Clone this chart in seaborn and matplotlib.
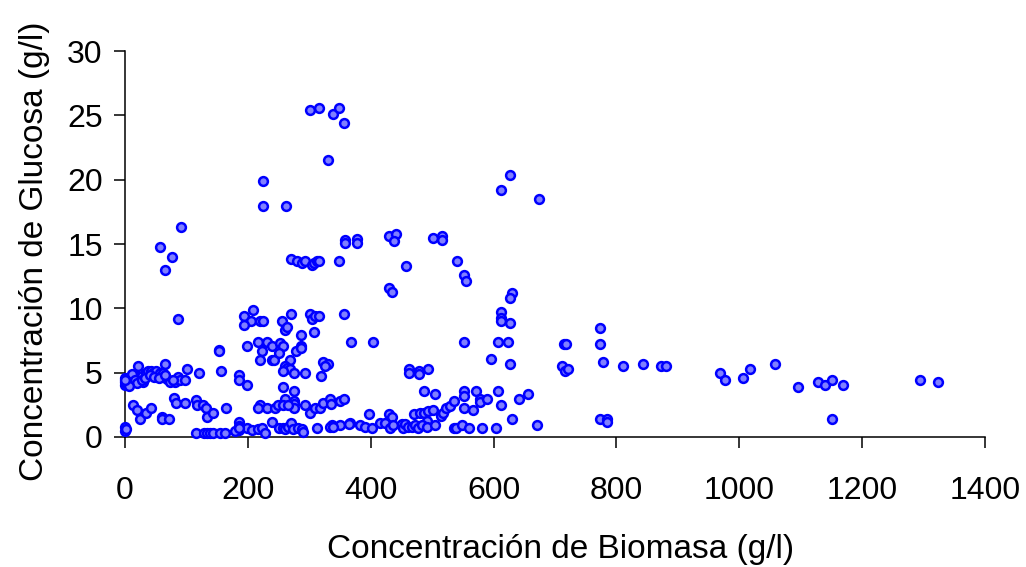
import matplotlib
matplotlib.use("Agg")
import matplotlib.pyplot as plt
import seaborn as sns
import pandas as pd

# Biomass concentration (g/l)
biomasa = [
    301, 316, 338, 349, 357, 331,
    225, 225, 262, 91, 57, 76, 65,
    626, 612, 674,
    358, 358, 378, 378,
    430, 441, 438, 501, 516, 516,
    457, 541, 552, 555, 430, 434, 630, 626,
    612, 612, 612, 626, 774, 774,
    271, 280, 289, 293, 304, 308, 312, 316, 349,
    87, 209, 194, 205, 194, 220, 224, 256, 261, 264, 271, 301, 305, 309, 316, 286, 308, 357,
    368, 153, 198, 217, 231, 239, 253, 257, 286, 404, 552, 607, 623, 714, 718,
    223, 279, 286,
    220, 239, 243, 250, 269, 261, 263, 269, 257, 275, 293, 323, 331, 326, 319, 596, 626,
    463, 463, 478, 478, 493, 711, 717, 722,
    186, 186, 198, 257, 275, 261, 275, 275, 275,
    220, 216, 231, 244, 249, 258, 266, 293, 301, 309, 318, 323, 334, 336, 350, 357,
    778, 810, 844, 872, 881, 969, 977, 1006, 1018, 1059, 1095, 1128, 1140, 1151, 1169, 1295, 1324,
    774, 784, 785, 1151,
    486, 505, 514, 517, 523, 529, 535, 552, 552, 552, 567, 571, 578, 578, 589, 607, 612, 630, 641, 656, 670,
    397, 430, 434, 471, 480, 487, 494, 502, 492,
    366, 383, 391, 402, 415, 423, 432, 437, 451, 453, 456, 461, 467, 472, 477, 483, 491, 505, 535, 539, 548, 560, 582, 604,
    186, 186, 186, 198, 206, 216, 223, 228, 239, 250, 258, 261, 266, 271, 274, 282, 288, 290, 312, 337, 350, 364, 334, 339,
    116, 128, 133, 138, 144, 155, 163, 179, 185,
    0, 0, 1,
    13, 20, 24, 35, 43, 60, 61, 72, 80, 83, 98, 115, 118, 127, 132, 134, 143, 164,
    153, 65, 21, 101, 157, 120,
    0, 0, 3, 8, 14, 19, 24, 27, 30, 35, 38, 43, 46, 51, 57, 62, 68, 73, 81, 87, 90, 98,
    0, 2, 5, 10, 12, 16, 20, 28, 33, 40, 48, 55, 65, 78, 6, 0,
]

# Glucose concentration (g/l)
glucosa = [
    25.4, 25.6, 25.1, 25.6, 24.4, 21.5,
    19.9, 17.95, 17.95, 16.3, 14.75, 14.0, 12.95,
    20.4, 19.2, 18.5,
    15.3, 15.05, 15.4, 15.05,
    15.6, 15.8, 15.25, 15.45, 15.6, 15.35,
    13.3, 13.65, 12.6, 12.1, 11.55, 11.3, 11.2, 10.8,
    9.75, 9.25, 9.05, 8.85, 8.5, 7.25,
    13.8, 13.7, 13.5, 13.7, 13.4, 13.5, 13.7, 13.7, 13.7,
    9.2, 9.9, 9.4, 9.05, 8.7, 9.05, 9.05, 9.05, 8.3, 8.55, 9.55, 9.55, 9.2, 9.4, 9.4, 7.95, 8.15, 9.55,
    7.4, 6.8, 7.1, 7.4, 7.4, 7.1, 7.3, 7.1, 7.05, 7.4, 7.4, 7.4, 7.4, 7.25, 7.25,
    6.7, 6.7, 6.9,
    6.0, 6.0, 6.0, 6.5, 6.0, 5.5, 5.35, 5.3, 5.1, 4.95, 4.95, 5.8, 5.7, 5.5, 4.75, 6.05, 5.65,
    5.3, 5.0, 5.1, 4.9, 5.3, 5.5, 5.1, 5.3,
    4.85, 4.4, 4.05, 3.9, 3.55, 2.95, 2.8, 2.6, 2.25,
    2.5, 2.25, 2.25, 2.25, 2.45, 2.5, 2.5, 2.45, 1.9, 2.25, 2.25, 2.65, 2.95, 2.6, 2.8, 2.95,
    5.8, 5.5, 5.65, 5.5, 5.5, 4.95, 4.4, 4.6, 5.3, 5.65, 3.9, 4.25, 4.05, 4.4, 4.05, 4.4, 4.25,
    1.4, 1.4, 1.2, 1.4,
    3.55, 3.35, 1.6, 1.85, 2.25, 2.4, 2.8, 3.55, 3.15, 2.25, 2.1, 3.55, 2.95, 2.75, 2.95, 3.55, 2.45, 1.4, 2.95, 3.35, 0.9,
    1.8, 1.8, 1.55, 1.8, 1.85, 1.9, 2.0, 2.1, 1.25,
    1.1, 0.95, 0.8, 0.7, 1.1, 1.1, 0.7, 0.9, 1.0, 0.7, 1.0, 0.8, 0.8, 0.9, 0.7, 0.95, 0.8, 0.9, 0.7, 0.7, 0.9, 0.7, 0.7, 0.7,
    1.2, 0.82, 0.51, 0.7, 0.51, 0.62, 0.7, 0.31, 1.2, 0.7, 0.7, 0.6, 0.8, 1.1, 0.6, 0.7, 0.6, 0.4, 0.7, 0.9, 0.9, 1.0, 0.8, 0.8,
    0.3, 0.3, 0.3, 0.3, 0.3, 0.3, 0.3, 0.5, 0.7,
    0.75, 0.5, 0.6,
    2.5, 2.1, 1.4, 1.9, 2.25, 1.55, 1.4, 1.4, 3.0, 2.65, 2.65, 2.9, 2.5, 2.5, 2.25, 1.55, 1.9, 2.25,
    6.7, 5.65, 5.5, 5.3, 5.1, 4.95,
    4.3, 4.05, 4.5, 4.7, 4.85, 4.7, 4.5, 4.75, 4.3, 4.95, 5.1, 5.15, 4.95, 5.1, 4.95, 4.95, 4.5, 4.3, 4.3, 4.65, 4.45, 4.4,
    4.6, 4.2, 4.4, 4.3, 4.9, 4.4, 4.2, 4.4, 4.6, 4.8, 4.7, 4.6, 4.8, 4.4, 4.0, 4.45,
]

x_ticks = [0, 200, 400, 600, 800, 1000, 1200, 1400]
y_ticks = [0, 5, 10, 15, 20, 25, 30]

df = pd.DataFrame({"biomasa": biomasa, "glucosa": glucosa})

sns.set_theme(style="white")
plt.rcParams["font.family"] = ["Liberation Sans", "DejaVu Sans"]

fig = plt.figure(figsize=(10.26, 5.67), dpi=100)
ax = fig.add_axes([0.1218, 0.2293, 0.9600 - 0.1218, 0.9100 - 0.2293])

sns.scatterplot(data=df, x="biomasa", y="glucosa", ax=ax,
                s=40, color="#8080ff", edgecolor="#0000ff", linewidth=1.8,
                clip_on=False, zorder=3)

ax.set_xlim(0, 1400)
ax.set_ylim(0, 30)
ax.set_xticks(x_ticks)
ax.set_yticks(y_ticks)
ax.set_xticklabels([str(v) for v in x_ticks])
ax.set_yticklabels([str(v) for v in y_ticks])

for side in ["top", "right"]:
    ax.spines[side].set_visible(False)
for side in ["left", "bottom"]:
    ax.spines[side].set_color("black")
    ax.spines[side].set_linewidth(1.1)

ax.tick_params(axis="both", which="major", direction="out", length=8, width=1.1,
               color="black", labelsize=23, labelcolor="black")
ax.tick_params(axis="y", pad=8, left=True)
ax.tick_params(axis="x", pad=20, bottom=True)

ax.set_xlabel("Concentración de Biomasa (g/l)", fontsize=24, color="black")
ax.set_ylabel("Concentración de Glucosa (g/l)", fontsize=24, color="black")
ax.xaxis.set_label_coords(0.507, -0.252)
ax.yaxis.set_label_coords(-0.087, 0.48)

fig.savefig("out.png", dpi=100)
